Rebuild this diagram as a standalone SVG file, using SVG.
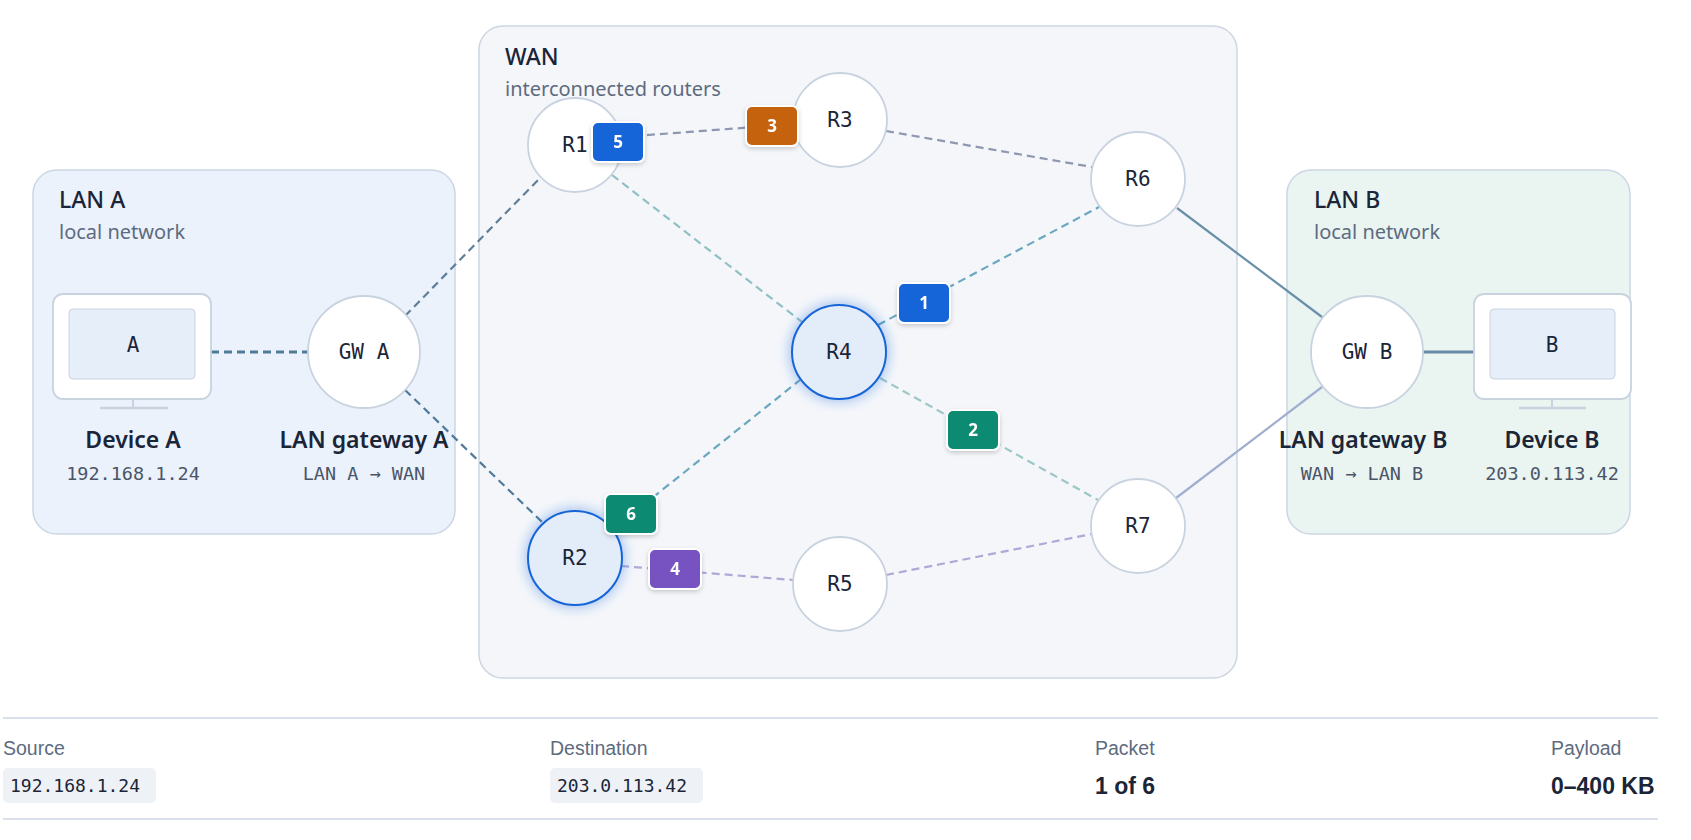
<svg xmlns="http://www.w3.org/2000/svg" width="1691" height="840" viewBox="0 0 1691 840">
<style>
.t{font-family:"Noto Sans","Open Sans",sans-serif;fill:#1b2538}
.m{font-family:"DejaVu Sans Mono","Liberation Mono",monospace}
.title{font-size:23px;font-weight:500}
.sub{font-size:20px;fill:#5d6b80}
.lbl{font-size:23px;font-weight:600;text-anchor:middle}
.addr{font-size:18.5px;fill:#4a5568;text-anchor:middle}
.node{fill:#fff;stroke:#c9d3e0;stroke-width:1.8}
.hot{fill:#e3ecf9;stroke:#1565d8;stroke-width:2}
.nt{font-size:21px;fill:#1b2538;text-anchor:middle}
.badge{stroke:#fff;stroke-width:2}
.bt{font-family:"Noto Sans",sans-serif;font-size:17px;font-weight:700;fill:#fff;text-anchor:middle}
.c{fill:none;stroke-width:2.2;stroke-dasharray:8 5}
.s{fill:none;stroke-width:2.2}
.fl{font-family:"Liberation Sans",sans-serif;font-size:19.5px;fill:#5d6b80}
.fv{font-size:18px;fill:#1b2538}
.fb{font-family:"Liberation Sans",sans-serif;font-size:23px;font-weight:700;fill:#1b2538}
</style>
<defs>
<filter id="glow" x="-50%" y="-50%" width="200%" height="200%"><feGaussianBlur stdDeviation="6"/></filter>
<filter id="sh" x="-30%" y="-30%" width="160%" height="160%"><feDropShadow dx="0" dy="2" stdDeviation="2" flood-color="#000" flood-opacity="0.18"/></filter>
</defs>
<rect width="1691" height="840" fill="#fff"/>
<g id="lanA"><rect x="33" y="170" width="422" height="364" rx="24" fill="#ebf2fc" stroke="#ccd6e4" stroke-width="1.5"/>
<text class="t title" x="59" y="208">LAN A</text><text class="t sub" x="59" y="239">local network</text></g>
<g id="wan"><rect x="479" y="26" width="758" height="652" rx="24" fill="#f4f6fa" stroke="#ccd6e4" stroke-width="1.5"/>
<text class="t title" x="505" y="65">WAN</text><text class="t sub" x="505" y="96">interconnected routers</text></g>
<g id="lanB"><rect x="1287" y="170" width="343" height="364" rx="24" fill="#eaf4f1" stroke="#ccd6e4" stroke-width="1.5"/>
<text class="t title" x="1314" y="208">LAN B</text><text class="t sub" x="1314" y="239">local network</text></g>
<g id="connectors">
<line class="c" x1="211" y1="352" x2="308" y2="352" stroke="#4f7a99" style="stroke-width:2.8"/>
<line class="c" x1="405" y1="316" x2="540" y2="178" stroke="#5f7f99"/>
<line class="c" x1="405" y1="390" x2="542" y2="522" stroke="#4f7a99"/>
<line class="c" x1="621" y1="137" x2="795" y2="124" stroke="#8e97b0"/>
<line class="c" x1="886" y1="131" x2="1092" y2="167" stroke="#8e97b0"/>
<line class="c" x1="612" y1="175" x2="802" y2="322" stroke="#8fc0c4"/>
<line class="c" x1="878" y1="325" x2="1099" y2="207" stroke="#6aa8c0"/>
<line class="c" x1="880" y1="378" x2="1098" y2="500" stroke="#9cc7c6"/>
<line class="c" x1="612" y1="530" x2="800" y2="380" stroke="#6aa8c0"/>
<line class="c" x1="621" y1="566" x2="793" y2="580" stroke="#b0a8d8"/>
<line class="c" x1="886" y1="575" x2="1092" y2="534" stroke="#b0a8d8"/>
<line class="s" x1="1177" y1="208" x2="1322" y2="317" stroke="#6a90a8"/>
<line class="s" x1="1176" y1="498" x2="1322" y2="387" stroke="#a0aed0"/>
<line class="s" x1="1423" y1="352" x2="1474" y2="352" stroke="#6a8aa8" style="stroke-width:2.8"/>
</g>
<g id="deviceA"><rect x="53" y="294" width="158" height="105" rx="10" fill="#fff" stroke="#c9d3e0" stroke-width="1.8"/>
<rect x="69" y="309" width="126" height="70" rx="4" fill="#e6eefa" stroke="#c9d3e0"/>
<line x1="133" y1="399" x2="133" y2="407" stroke="#c9d3e0" stroke-width="2"/><line x1="100" y1="408" x2="168" y2="408" stroke="#c9d3e0" stroke-width="2.5"/>
<text class="m nt" x="133" y="352">A</text>
<text class="t lbl" x="133" y="448">Device A</text><text class="m addr" x="133" y="480">192.168.1.24</text></g>
<g id="gwA"><circle class="node" cx="364" cy="352" r="56"/><text class="m nt" x="364" y="359">GW A</text>
<text class="t lbl" x="364" y="448">LAN gateway A</text><text class="m addr" x="364" y="480">LAN A → WAN</text></g>
<g id="R1"><circle class="node" cx="575" cy="145" r="47"/><text class="m nt" x="575" y="152">R1</text></g>
<g id="R3"><circle class="node" cx="840" cy="120" r="47"/><text class="m nt" x="840" y="127">R3</text></g>
<g id="R6"><circle class="node" cx="1138" cy="179" r="47"/><text class="m nt" x="1138" y="186">R6</text></g>
<g id="R4"><circle cx="839" cy="352" r="50" fill="#1565d8" opacity="0.35" filter="url(#glow)"/><circle class="hot" cx="839" cy="352" r="47"/><text class="m nt" x="839" y="359">R4</text></g>
<g id="R2"><circle cx="575" cy="558" r="50" fill="#1565d8" opacity="0.35" filter="url(#glow)"/><circle class="hot" cx="575" cy="558" r="47"/><text class="m nt" x="575" y="565">R2</text></g>
<g id="R5"><circle class="node" cx="840" cy="584" r="47"/><text class="m nt" x="840" y="591">R5</text></g>
<g id="R7"><circle class="node" cx="1138" cy="526" r="47"/><text class="m nt" x="1138" y="533">R7</text></g>
<g id="gwB"><circle class="node" cx="1367" cy="352" r="56"/><text class="m nt" x="1367" y="359">GW B</text>
<text class="t lbl" x="1363" y="448">LAN gateway B</text><text class="m addr" x="1362" y="480">WAN → LAN B</text></g>
<g id="deviceB"><rect x="1474" y="294" width="157" height="105" rx="10" fill="#fff" stroke="#c9d3e0" stroke-width="1.8"/>
<rect x="1490" y="309" width="125" height="70" rx="4" fill="#e6eefa" stroke="#c9d3e0"/>
<line x1="1552" y1="399" x2="1552" y2="407" stroke="#c9d3e0" stroke-width="2"/><line x1="1519" y1="408" x2="1586" y2="408" stroke="#c9d3e0" stroke-width="2.5"/>
<text class="m nt" x="1552" y="352">B</text>
<text class="t lbl" x="1552" y="448">Device B</text><text class="m addr" x="1552" y="480">203.0.113.42</text></g>
<g id="packets" filter="url(#sh)">
<rect class="badge" x="592" y="122" width="52" height="40" rx="6" fill="#1565d8"/><text class="bt" x="618" y="148">5</text>
<rect class="badge" x="746" y="106" width="52" height="40" rx="6" fill="#c5620f"/><text class="bt" x="772" y="132">3</text>
<rect class="badge" x="898" y="283" width="52" height="40" rx="6" fill="#1565d8"/><text class="bt" x="924" y="309">1</text>
<rect class="badge" x="947" y="410" width="52" height="40" rx="6" fill="#0d8a72"/><text class="bt" x="973" y="436">2</text>
<rect class="badge" x="605" y="494" width="52" height="40" rx="6" fill="#0d8a72"/><text class="bt" x="631" y="520">6</text>
<rect class="badge" x="649" y="549" width="52" height="40" rx="6" fill="#7652c0"/><text class="bt" x="675" y="575">4</text>
</g>
<g id="footer">
<line x1="3" y1="718" x2="1658" y2="718" stroke="#ccd6e4" stroke-width="1.5"/>
<line x1="3" y1="819" x2="1658" y2="819" stroke="#ccd6e4" stroke-width="1.5"/>
<text class="fl" x="3" y="755">Source</text>
<rect x="3" y="768" width="153" height="35" rx="5" fill="#eef2f7"/><text class="m fv" x="10" y="792">192.168.1.24</text>
<text class="fl" x="550" y="755">Destination</text>
<rect x="550" y="768" width="153" height="35" rx="5" fill="#eef2f7"/><text class="m fv" x="557" y="792">203.0.113.42</text>
<text class="fl" x="1095" y="755">Packet</text><text class="fb" x="1095" y="794">1 of 6</text>
<text class="fl" x="1551" y="755">Payload</text><text class="fb" x="1551" y="794">0–400 KB</text>
</g>
</svg>
